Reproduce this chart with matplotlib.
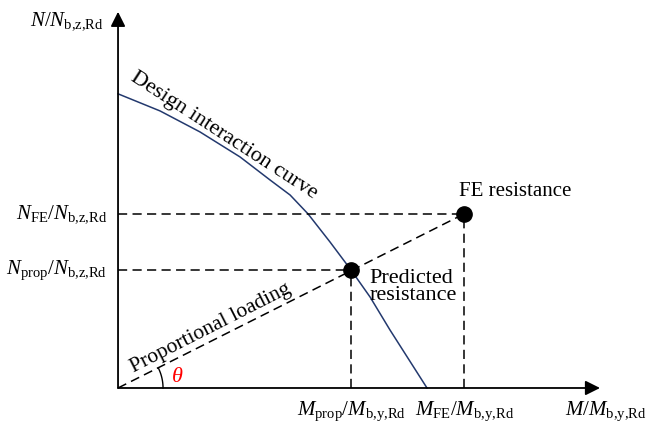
import numpy as np
import matplotlib.pyplot as plt

plt.rcParams['font.family'] = ['Liberation Serif', 'DejaVu Serif']
plt.rcParams['mathtext.fontset'] = 'custom'
plt.rcParams['mathtext.rm'] = 'Liberation Serif'
plt.rcParams['mathtext.it'] = 'Liberation Serif:italic'

# design interaction curve (normalised M, N)
m_curve = [0.0, 0.136, 0.265, 0.395, 0.492, 0.557, 0.615, 0.686, 0.754, 0.816, 0.880, 1.0]
n_curve = [0.997, 0.939, 0.868, 0.783, 0.705, 0.654, 0.590, 0.495, 0.400, 0.308, 0.197, 0.0]

# FE resistance and predicted resistance
fe_point = (1.120, 0.590)
prop_point = (0.754, 0.400)

x_max = 1.56
y_max = 1.275

fig = plt.figure(figsize=(6.51, 4.28), dpi=100)
ax = fig.add_axes([0, 0, 1, 1])
ax.set_xlim(-0.382, 1.725)
ax.set_ylim(-0.1356, 1.315)
ax.axis('off')

# axes with arrow heads
arr = dict(arrowstyle='-|>', mutation_scale=22, color='k', lw=1.3, shrinkA=0, shrinkB=0)
ax.annotate('', xy=(x_max, 0), xytext=(0, 0), arrowprops=arr)
ax.annotate('', xy=(0, y_max), xytext=(0, 0), arrowprops=arr)

ax.plot(m_curve, n_curve, color='#23396e', lw=1.1)

dash = dict(color='k', lw=1.1, ls=(0, (6, 3.5)))
ax.plot([0, fe_point[0]], [fe_point[1], fe_point[1]], **dash)
ax.plot([fe_point[0], fe_point[0]], [0, fe_point[1]], **dash)
ax.plot([0, prop_point[0]], [prop_point[1], prop_point[1]], **dash)
ax.plot([prop_point[0], prop_point[0]], [0, prop_point[1]], **dash)
ax.plot([0, fe_point[0]], [0, fe_point[1]], **dash)

ax.plot(*fe_point, 'o', color='k', ms=11)
ax.plot(*prop_point, 'o', color='k', ms=11)

# angle arc for theta (drawn as a circle in pixel space)
sx, sy = 309.0, 295.0
ang = np.arctan2(fe_point[1] * sy, fe_point[0] * sx)
t = np.linspace(0, ang, 40)
ax.plot(45 * np.cos(t) / sx, 45 * np.sin(t) / sy, color='k', lw=1.0)
ax.text(59 / sx, 10 / sy, r'$\theta$', color='red', fontsize=16, ha='center', va='center')

fs = 15
ax.text(-14 / sx, 1.245, r'$N/N_{\mathrm{b{,}z{,}Rd}}$', fontsize=fs, ha='right', va='center')
ax.text(-11 / sx, fe_point[1], r'$N_{\mathrm{FE}}/N_{\mathrm{b{,}z{,}Rd}}$', fontsize=fs, ha='right', va='center')
ax.text(-11 / sx, prop_point[1], r'$N_{\mathrm{prop}}/N_{\mathrm{b{,}z{,}Rd}}$', fontsize=fs, ha='right', va='center')
ax.text(prop_point[0], -0.08, r'$M_{\mathrm{prop}}/M_{\mathrm{b{,}y{,}Rd}}$', fontsize=fs, ha='center', va='center')
ax.text(fe_point[0], -0.08, r'$M_{\mathrm{FE}}/M_{\mathrm{b{,}y{,}Rd}}$', fontsize=fs, ha='center', va='center')
ax.text(1.71, -0.08, r'$M/M_{\mathrm{b{,}y{,}Rd}}$', fontsize=fs, ha='right', va='center')

ax.text(fe_point[0] - 0.015, fe_point[1] + 0.075, 'FE resistance', fontsize=fs, ha='left', va='center')
ax.text(prop_point[0] + 0.06, prop_point[1] - 0.058, 'Predicted\nresistance', fontsize=16,
        ha='left', va='center', linespacing=0.85)
ax.text(106 / sx, 252 / sy, 'Design interaction curve', fontsize=16, rotation=-33,
        rotation_mode='anchor', ha='center', va='center')
ax.text(93 / sx, 60 / sy, 'Proportional loading', fontsize=15.5, rotation=27,
        rotation_mode='anchor', ha='center', va='center')

fig.savefig('out.png', dpi=100)
